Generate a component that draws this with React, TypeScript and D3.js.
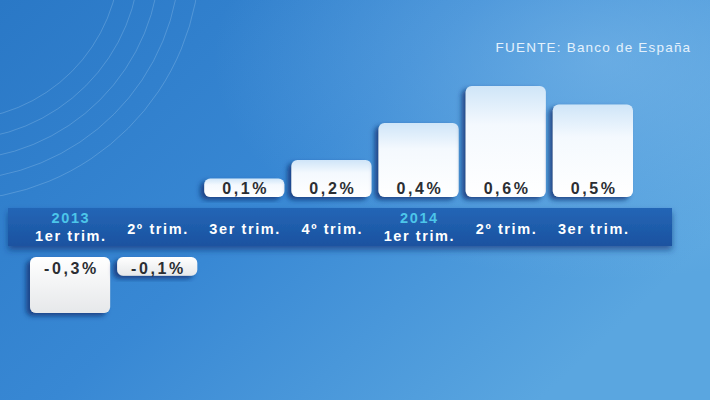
import * as d3 from "d3";

const quarters = ["1er trim.", "2º trim.", "3er trim.", "4º trim.", "1er trim.", "2º trim.", "3er trim."];
const years = ["2013", "", "", "", "2014", "", ""];
const values = [-0.3, -0.1, 0.1, 0.2, 0.4, 0.6, 0.5];
const valueLabels = ["-0,3%", "-0,1%", "0,1%", "0,2%", "0,4%", "0,6%", "0,5%"];
const source = "FUENTE: Banco de España";

const W = 710;
const H = 400;

export default function App() {
  const ids = quarters.map((_, i) => String(i));
  const x = d3.scaleBand<string>().domain(ids).range([30, 633]).paddingInner(0.08);
  // positive values above the band, negative below it
  const yPos = d3.scaleLinear().domain([0, 0.6]).range([197, 86]);
  const yNeg = d3.scaleLinear().domain([0, -0.3]).range([257, 313]);
  const font = "'Liberation Sans', Arial, sans-serif";
  const valLs = 2.6;
  const catLs = 1.6;

  return (
    <svg width={W} height={H} style={{ position: "absolute", left: 0, top: 0 }}>
      <defs>
        <linearGradient id="bg" x1="0" y1="0" x2="1" y2="0.6">
          <stop offset="0" stopColor="#2a78c6" />
          <stop offset="0.5" stopColor="#3888d4" />
          <stop offset="1" stopColor="#5aa6e0" />
        </linearGradient>
        <radialGradient id="glow" cx="0.85" cy="0.15" r="0.55">
          <stop offset="0" stopColor="#8cc4ee" stopOpacity="0.5" />
          <stop offset="1" stopColor="#8cc4ee" stopOpacity="0" />
        </radialGradient>
        <linearGradient id="band" x1="0" y1="0" x2="0" y2="1">
          <stop offset="0" stopColor="#2466b6" />
          <stop offset="1" stopColor="#1a52a0" />
        </linearGradient>
        <linearGradient id="bar" x1="0" y1="0" x2="0" y2="1">
          <stop offset="0" stopColor="#cfe5f8" />
          <stop offset="0.35" stopColor="#f4f9fe" />
          <stop offset="1" stopColor="#ffffff" />
        </linearGradient>
        <linearGradient id="barNeg" x1="0" y1="0" x2="0" y2="1">
          <stop offset="0" stopColor="#ffffff" />
          <stop offset="1" stopColor="#e6e8ea" />
        </linearGradient>
        <filter id="shadow" x="-30%" y="-30%" width="160%" height="160%">
          <feDropShadow dx="-4" dy="3" stdDeviation="2.5" floodColor="#0b2f6e" floodOpacity="0.75" />
        </filter>
        <filter id="bandShadow" x="-5%" y="-30%" width="110%" height="180%">
          <feDropShadow dx="0" dy="4" stdDeviation="3" floodColor="#0b2f6e" floodOpacity="0.6" />
        </filter>
      </defs>

      <rect width={W} height={H} fill="url(#bg)" />
      <rect width={W} height={H} fill="url(#glow)" />
      {/* faint decorative arcs */}
      <g fill="none" stroke="#cfe8fb" strokeOpacity="0.22" strokeWidth="1">
        {[165, 185, 205, 225, 245].map((r) => (
          <circle key={r} cx={-45} cy={-45} r={r} />
        ))}
      </g>

      <text
        x={690}
        y={52}
        dx={valLs / 2}
        textAnchor="end"
        fill="#e4f1fc"
        fontFamily={font}
        fontSize={13.5}
        letterSpacing={1.2}
      >
        {source}
      </text>

      <rect x={8} y={208} width={664} height={38} fill="url(#band)" filter="url(#bandShadow)" />

      {values.map((v, i) => {
        const bx = x(String(i))!;
        const bw = x.bandwidth();
        const pos = v >= 0;
        const top = pos ? yPos(v) : yNeg(0);
        const bottom = pos ? yPos(0) : yNeg(v);
        const cx = bx + bw / 2;
        return (
          <g key={i}>
            <rect
              x={bx}
              y={top}
              width={bw}
              height={bottom - top}
              rx={6}
              fill={pos ? "url(#bar)" : "url(#barNeg)"}
              filter="url(#shadow)"
            />
            <text
              x={cx}
              dx={valLs / 2}
              y={pos ? bottom - 3 : top + 17}
              textAnchor="middle"
              fill="#2b2e33"
              fontFamily={font}
              fontWeight="bold"
              fontSize={16}
              letterSpacing={valLs}
            >
              {valueLabels[i]}
            </text>
            {years[i] ? (
              <>
                <text
                  x={cx}
                  dx={catLs / 2}
                  y={223}
                  textAnchor="middle"
                  fill="#4cc6ea"
                  fontFamily={font}
                  fontWeight="bold"
                  fontSize={14.5}
                  letterSpacing={catLs}
                >
                  {years[i]}
                </text>
                <text
                  x={cx}
                  dx={catLs / 2}
                  y={241}
                  textAnchor="middle"
                  fill="#ffffff"
                  fontFamily={font}
                  fontWeight="bold"
                  fontSize={14.5}
                  letterSpacing={catLs}
                >
                  {quarters[i]}
                </text>
              </>
            ) : (
              <text
                x={cx}
                dx={catLs / 2}
                y={234}
                textAnchor="middle"
                fill="#ffffff"
                fontFamily={font}
                fontWeight="bold"
                fontSize={14.5}
                letterSpacing={catLs}
              >
                {quarters[i]}
              </text>
            )}
          </g>
        );
      })}
    </svg>
  );
}
